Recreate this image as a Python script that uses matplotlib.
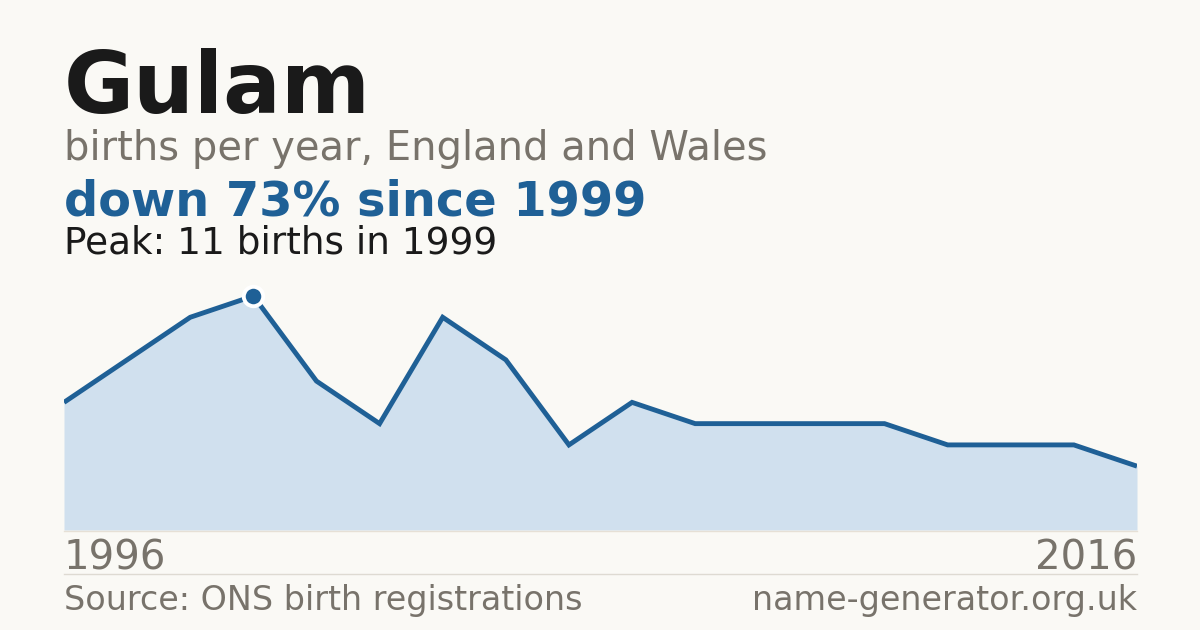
import matplotlib
matplotlib.use("Agg")
import matplotlib.pyplot as plt
from matplotlib.lines import Line2D

# Data
years = [1996, 1997, 1998, 1999, 2000, 2001, 2002, 2003, 2004,
         2005, 2006, 2007, 2008, 2009, 2010, 2011, 2012, 2016]
births = [6, 8, 10, 11, 7, 5, 10, 8, 4, 6, 5, 5, 5, 5, 4, 4, 4, 3]
peak_year = 1999
peak_value = 11
title = "Gulam"
subtitle = "births per year, England and Wales"
headline = "down 73% since 1999"
peak_text = "Peak: 11 births in 1999"
start_label = "1996"
end_label = "2016"
source = "Source: ONS birth registrations"
site = "name-generator.org.uk"

BG = "#faf9f5"
DARK = "#1a1a1a"
GRAY = "#78736b"
BLUE = "#1f6096"
FILL = "#d0e0ee"

W, H = 1200, 630
fig = plt.figure(figsize=(12, 6.3), dpi=100, facecolor=BG)

def fx(x):
    return x / W

def fy(y):
    return 1 - y / H

# chart axes: x 64..1137, y 530 (0) .. 296 (11)
ax = fig.add_axes([fx(64), fy(530), (1137 - 64) / W, (530 - 296) / H])
ax.set_facecolor("none")
idx = list(range(len(births)))
ax.fill_between(idx, births, 0, color=FILL, lw=0)
ax.plot(idx, births, color=BLUE, lw=3.5, solid_joinstyle="miter", solid_capstyle="butt")
pi = years.index(peak_year)
ax.plot([idx[pi]], [births[pi]], "o", ms=14, color=BLUE, mec="white", mew=2.8, clip_on=False, zorder=5)
ax.set_xlim(0, len(births) - 1)
ax.set_ylim(0, peak_value)
ax.axis("off")

# lines
fig.add_artist(Line2D([fx(64), fx(1137)], [fy(530.5), fy(530.5)], color="#e6e0d6", lw=1))
fig.add_artist(Line2D([fx(64), fx(1137)], [fy(574), fy(574)], color="#dedad2", lw=1))

fig.text(fx(64), fy(113), title, fontsize=61.6, fontweight="bold", color=DARK, va="baseline", ha="left")
fig.text(fx(64), fy(160), subtitle, fontsize=28.8, color=GRAY, va="baseline", ha="left")
fig.text(fx(64), fy(215), headline, fontsize=34.5, fontweight="bold", color=BLUE, va="baseline", ha="left")
fig.text(fx(64), fy(254), peak_text, fontsize=26.9, color=DARK, va="baseline", ha="left")
fig.text(fx(64), fy(570), start_label, fontsize=29, color=GRAY, va="baseline", ha="left")
fig.text(fx(1137), fy(570), end_label, fontsize=29, color=GRAY, va="baseline", ha="right")
fig.text(fx(64), fy(610), source, fontsize=24, color=GRAY, va="baseline", ha="left")
fig.text(fx(1137), fy(610), site, fontsize=24, color=GRAY, va="baseline", ha="right")

fig.savefig("out.png", dpi=100, facecolor=BG)
